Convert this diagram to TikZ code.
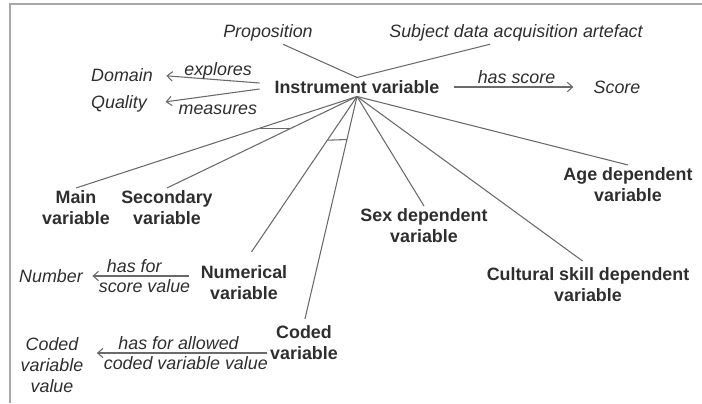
\documentclass[tikz,border=0pt]{standalone}
\usepackage{fontspec}
\setmainfont{Liberation Sans}
\usepackage{tikz}
\usetikzlibrary{calc,arrows.meta}
\definecolor{txtgray}{HTML}{2E2E2E}
\definecolor{linegray}{HTML}{6A6A6A}
\definecolor{framegray}{HTML}{A8A8A8}

\begin{document}
\begin{tikzpicture}[x=0.75pt,y=-0.75pt]
\tikzstyle{every node}+=[inner sep=2pt, text=txtgray, align=center, font=\fontsize{13.4}{15.8}\selectfont]
\tikzstyle{concept}=[font=\fontsize{13.4}{15.8}\selectfont\itshape]
\tikzstyle{kind}=[font=\fontsize{13.4}{15.8}\selectfont\bfseries]
\tikzstyle{link}=[draw=linegray, line width=0.8pt]
\tikzstyle{rel}=[link, -{Straight Barb[length=4pt,width=7pt]}]
\useasboundingbox (0,0) rectangle (702,403);
\draw [framegray, line width=1.6pt] (10,403) -- (10,4) -- (702,4);
% concepts
\node [kind] (inst) at (357,87) {Instrument variable};
\node [concept] (prop) at (268,33) {Proposition};
\node [concept] (sdaa) at (516,33) {Subject data acquisition artefact};
\node [concept] (domain) at (122,75) {Domain};
\node [concept] (quality) at (119,104) {Quality};
\node [concept] (score) at (617,87) {Score};
\node [kind] (main) at (76,208) {Main\\variable};
\node [kind] (second) at (167,208) {Secondary\\variable};
\node [kind] (numer) at (244,283) {Numerical\\variable};
\node [kind] (coded) at (304,343) {Coded\\variable};
\node [kind] (sex) at (424,226) {Sex dependent\\variable};
\node [kind] (cult) at (588,285) {Cultural skill dependent\\variable};
\node [kind] (age) at (628,185) {Age dependent\\variable};
\node [concept] (number) at (51,276) {Number};
\node [concept] (cvv) at (52,365) {Coded\\variable\\value};
\coordinate (n1) at ($(numer.west)+(-9,-7)$);
\coordinate (c1) at ($(coded.west)+(0,10)$);
% links
\draw [link] ($(prop.south)+(15,0)$) -- (inst.north);
\draw [link] ($(sdaa.south)+(-26,0)$) -- (inst.north);
\draw [rel, shorten >=8pt] ($(inst.west)+(-12,-4)$) -- node[concept, above, pos=0.4, yshift=-2pt] {explores} (domain.east);
\draw [rel, shorten >=12pt] ($(inst.west)+(-12,2)$) -- node[concept, below, pos=0.38, yshift=-5pt] {measures} (quality.east);
\draw [rel, shorten <=9pt, shorten >=13pt] (inst.east) -- node[concept, above] {has score} (score.west);
\draw [link] (inst.south) -- (main.north);
\draw [link] (inst.south) -- (second.north);
\draw [link, shorten >=10pt] (inst.south) -- (numer.north);
\draw [link, shorten >=3pt] (inst.south) -- (coded.north);
\draw [link] (inst.south) -- (sex.north);
\draw [link, shorten >=5pt] (inst.south) -- (cult.north);
\draw [link] (inst.south) -- (age.north);
\draw [link] ($(inst.south)!0.353!(main.north)$) -- ($(inst.south)!0.353!(second.north)$);
\draw [link] ($(inst.south)!0.2625!(numer.north)$) -- ($(inst.south)!0.19!(coded.north)$);
\draw [rel, shorten >=5pt] (n1) -- node[concept, above, pos=0.53] {has for} node[concept, below, pos=0.43] {score value} (n1 -| number.east);
\draw [rel, shorten >=8pt] (c1) -- node[concept, above, pos=0.49] {has for allowed} node[concept, below, pos=0.45] {coded variable value} (c1 -| cvv.east);
\end{tikzpicture}
\end{document}
